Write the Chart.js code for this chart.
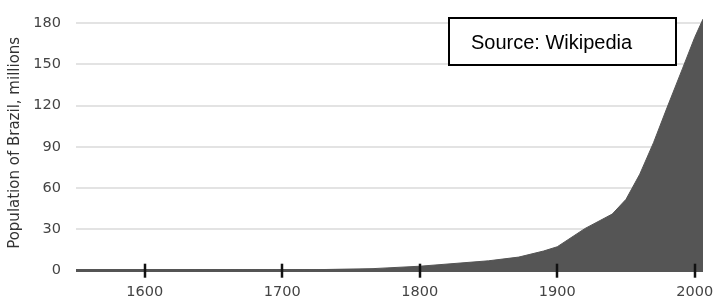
<!DOCTYPE html>
<html>
<head>
<meta charset="utf-8">
<script src="https://cdn.jsdelivr.net/npm/chart.js@4/dist/chart.umd.min.js"></script>
<style>
  html, body { margin: 0; padding: 0; background: #fff; }
  #wrap { width: 714px; height: 300px; }
</style>
</head>
<body>
<div id="wrap"><canvas id="plot-brazil" width="714" height="300"></canvas></div>
<script>
const years = [1550, 1600, 1660, 1700, 1766, 1800, 1850, 1872, 1890, 1900, 1920, 1940, 1950, 1960, 1970, 1980, 1991, 2000, 2006];
const population = [0.015, 0.1, 0.184, 0.3, 1.5, 3.25, 7.2, 9.9, 14.3, 17.4, 30.6, 41.2, 51.9, 70.2, 93.1, 119.0, 146.8, 169.8, 183];
const xTicks = [1600, 1700, 1800, 1900, 2000];
const yTicks = [0, 30, 60, 90, 120, 150, 180];
const sourceText = "Source: Wikipedia";

// tick marks crossing the zero line, plus the source box
const decorations = {
  id: "decorations",
  afterDatasetsDraw(chart) {
    const ctx = chart.ctx;
    const x = chart.scales.x;
    const y = chart.scales.y;
    const y0 = y.getPixelForValue(0);
    ctx.save();
    ctx.strokeStyle = "#111";
    ctx.lineWidth = 2.5;
    x.ticks.forEach((t) => {
      let px = Math.round(x.getPixelForValue(t.value));
      ctx.beginPath();
      ctx.moveTo(px, y0 - 7);
      ctx.lineTo(px, y0 + 7);
      ctx.stroke();
    });

    ctx.fillStyle = "#fff";
    ctx.fillRect(449, 18, 227, 47);
    ctx.strokeStyle = "#000";
    ctx.lineWidth = 2;
    ctx.strokeRect(449, 18, 227, 47);
    ctx.fillStyle = "#000";
    ctx.font = '20px "Liberation Sans", Arial, sans-serif';
    ctx.textBaseline = "alphabetic";
    ctx.fillText(sourceText, 471, 49);
    ctx.restore();
  },
};

let canvas = document.getElementById("plot-brazil");
const myChart = new Chart(canvas, {
  type: "line",
  data: {
    datasets: [
      {
        label: "Population",
        data: years.map((yr, i) => ({ x: yr, y: population[i] })),
        borderColor: "#555555",
        backgroundColor: "#555555",
        borderWidth: 1,
        fill: "origin",
        pointRadius: 0,
        tension: 0,
      },
    ],
  },
  options: {
    responsive: false,
    animation: false,
    layout: { padding: { top: 15, right: 11, bottom: 0, left: 0 } },
    plugins: {
      legend: { display: false },
      tooltip: { enabled: false },
    },
    scales: {
      x: {
        type: "linear",
        min: 1550,
        max: 2006,
        afterBuildTicks: (scale) => {
          scale.ticks = xTicks.map((v) => ({ value: v }));
        },
        afterFit: (scale) => {
          scale.height = 29.3;
          scale.paddingLeft = 0;
          scale.paddingRight = 0;
        },
        border: { display: false },
        grid: { display: false, drawTicks: false },
        ticks: {
          padding: 13,
          color: "#444",
          font: { family: "DejaVu Sans", size: 14.5 },
          maxRotation: 0,
          callback: (v) => String(v),
        },
      },
      y: {
        min: 0,
        max: 186,
        afterBuildTicks: (scale) => {
          scale.ticks = yTicks.map((v) => ({ value: v }));
        },
        afterFit: (scale) => {
          scale.width = 76;
          scale.paddingTop = 0;
          scale.paddingBottom = 0;
        },
        border: { display: false },
        grid: {
          drawTicks: false,
          color: (c) => (c.tick && c.tick.value === 0 ? "#555555" : "#e3e3e3"),
          lineWidth: (c) => (c.tick && c.tick.value === 0 ? 3 : 2),
        },
        ticks: {
          padding: 15,
          color: "#444",
          font: { family: "DejaVu Sans", size: 14.5 },
        },
        title: {
          display: true,
          text: "Population of Brazil, millions",
          color: "#333",
          font: { family: "DejaVu Sans", size: 15 },
          padding: { top: 6, bottom: 0 },
        },
      },
    },
  },
  plugins: [decorations],
});
</script>
</body>
</html>
